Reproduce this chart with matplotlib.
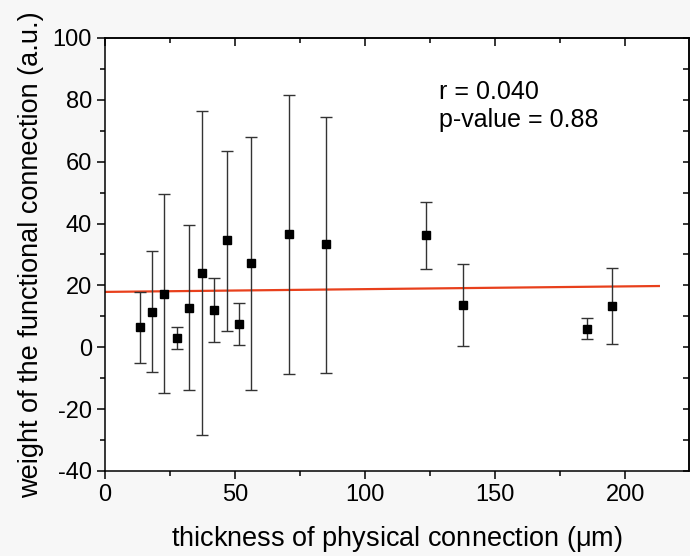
import matplotlib.pyplot as plt
from matplotlib.ticker import MultipleLocator

thickness = [13.5, 18.2, 22.8, 27.8, 32.4, 37.3, 42.0, 46.8, 51.5, 56.3, 70.8, 85.0, 123.3, 137.8, 185.4, 195.1]
weight = [6.6, 11.5, 17.2, 3.1, 12.8, 24.1, 12.0, 34.6, 7.6, 27.2, 36.5, 33.3, 36.2, 13.7, 6.0, 13.4]
err_top = [18.0, 31.0, 49.5, 6.7, 39.6, 76.5, 22.4, 63.6, 14.4, 67.9, 81.6, 74.6, 47.0, 26.8, 9.6, 25.5]
err_bottom = [-5.1, -7.9, -14.9, -0.6, -13.8, -28.3, 1.6, 5.2, 0.7, -13.8, -8.7, -8.2, 25.4, 0.5, 2.6, 1.0]

fit_x = [0, 213]
fit_y = [17.9, 19.8]

plt.rcParams["font.family"] = ["Liberation Sans", "DejaVu Sans"]
plt.rcParams["mathtext.fontset"] = "custom"
plt.rcParams["mathtext.rm"] = "Liberation Sans"
plt.rcParams["mathtext.it"] = "Liberation Sans"
plt.rcParams["axes.unicode_minus"] = False

fig = plt.figure(figsize=(6.9, 5.56), dpi=100, facecolor="#f7f7f7")
ax = fig.add_axes([0.1522, 0.1529, 0.8464, 0.7788])

lower = [w - b for w, b in zip(weight, err_bottom)]
upper = [t - w for w, t in zip(weight, err_top)]
ax.errorbar(thickness, weight, yerr=[lower, upper], fmt="s", color="black",
            ecolor="#333333", elinewidth=1, capsize=4, capthick=1,
            markersize=6, zorder=3)
ax.plot(fit_x, fit_y, color="#e8401c", linewidth=1.6, zorder=2)

ax.text(128.5, 86.5, "r = 0.040\np-value = 0.88", fontsize=18, va="top",
        linespacing=1.2)

ax.set_xlim(0, 224.6)
ax.set_ylim(-40, 100)
ax.xaxis.set_major_locator(MultipleLocator(50))
ax.xaxis.set_minor_locator(MultipleLocator(25))
ax.yaxis.set_major_locator(MultipleLocator(20))
ax.yaxis.set_minor_locator(MultipleLocator(10))

ax.tick_params(which="both", labelsize=17, width=1.1, color="black")
ax.tick_params(which="major", length=6)
ax.tick_params(which="minor", length=3.6)
ax.tick_params(axis="both", which="both", direction="out", top=False, right=False)

# ticks on top and right pointing into the plot
sec_x = ax.secondary_xaxis("top")
sec_x.xaxis.set_major_locator(MultipleLocator(50))
sec_x.xaxis.set_minor_locator(MultipleLocator(25))
sec_x.tick_params(which="both", direction="in", labeltop=False, width=1.1)
sec_x.tick_params(which="major", length=6)
sec_x.tick_params(which="minor", length=3.6)
sec_y = ax.secondary_yaxis("right")
sec_y.yaxis.set_major_locator(MultipleLocator(10))
sec_y.tick_params(which="both", direction="in", labelright=False, width=1.1, length=4)
for s in (sec_x.spines.values()):
    s.set_linewidth(1.1)
for s in (sec_y.spines.values()):
    s.set_linewidth(1.1)
for s in ax.spines.values():
    s.set_linewidth(1.1)

ax.set_xlabel("thickness of physical connection ($\\mathregular{\\mu}$m)", fontsize=19.5, labelpad=13)
ax.set_ylabel("weight of the functional connection (a.u.)", fontsize=19.5, labelpad=6)

fig.savefig("out.png", dpi=100, facecolor=fig.get_facecolor())
